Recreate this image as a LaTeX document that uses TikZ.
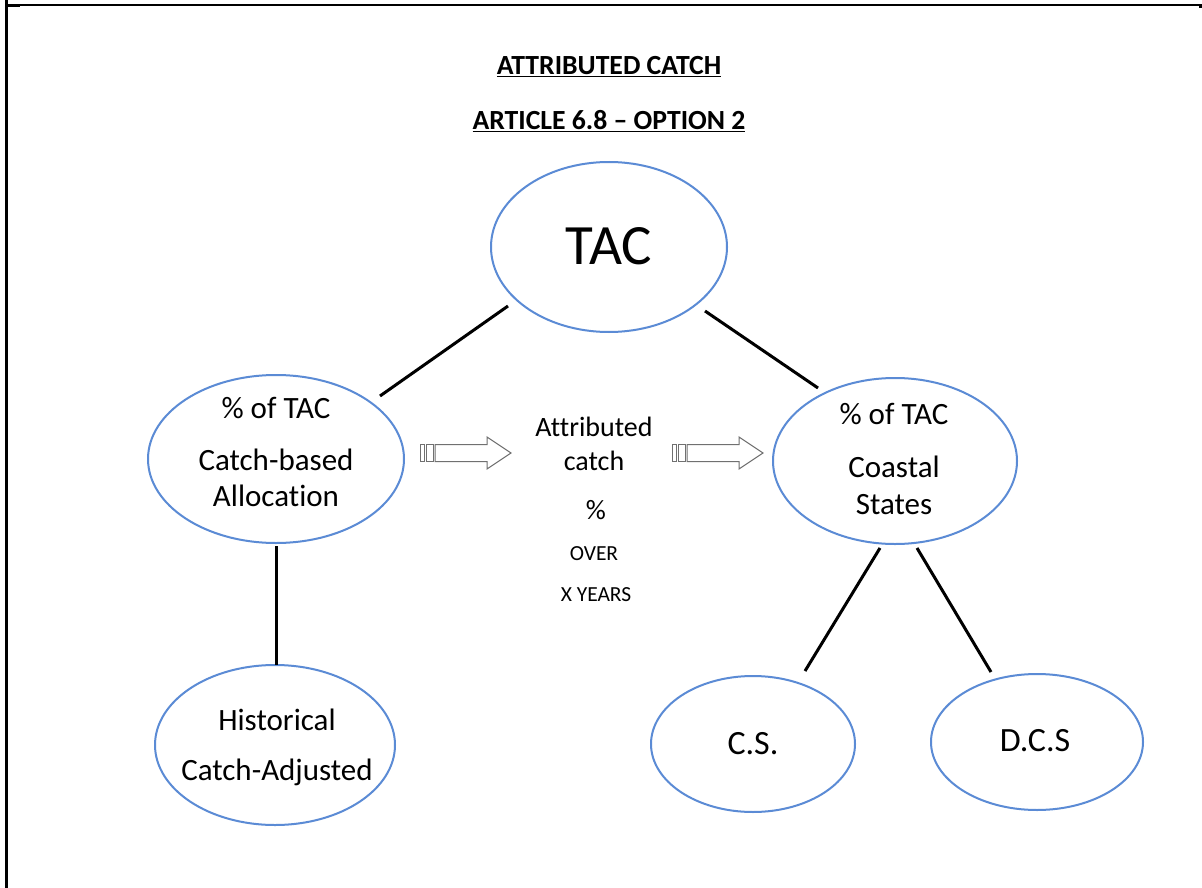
\documentclass[tikz,border=0pt]{standalone}
\usepackage{fontspec}
\setmainfont[Ligatures=NoCommon]{Carlito}
\usetikzlibrary{shapes.geometric,shapes.arrows}
\definecolor{ellblue}{RGB}{91,139,213}
\definecolor{arrgray}{RGB}{112,112,112}
\tikzset{
  oval/.style={draw=ellblue, line width=2pt, ellipse, inner sep=0pt},
  conn/.style={draw=black, line width=3pt},
  txt/.style={inner sep=0pt, font=\fontsize{31}{36}\selectfont},
  midtxt/.style={inner sep=0pt, font=\fontsize{28}{32}\selectfont},
  small/.style={inner sep=0pt, font=\fontsize{21.5}{25}\selectfont},
  ttl/.style={inner sep=0pt, font=\bfseries\fontsize{27.7}{32}\selectfont},
  blk/.style={draw=arrgray, line width=1pt, fill=white},
}
\begin{document}
\begin{tikzpicture}[x=1pt,y=-1pt]
\useasboundingbox (0,0) rectangle (1202,888);
\fill[white] (0,0) rectangle (1202,888);
% frame
\draw[line width=1.5pt] (7,5) -- (1202,5);
\draw[line width=3pt] (6,0) -- (6,888);
\draw[line width=3pt] (6,6) -- (20,6);
\fill (1199,4) rectangle (1202,8);
% titles
\node[ttl] (t1) at (609,67) {\underline{ATTRIBUTED CATCH}};
\node[ttl] (t2) at (609,121) {\underline{ARTICLE 6.8 – OPTION 2}};
% ellipses
\node[oval, minimum width=236pt, minimum height=170pt] (tac) at (609,247) {};
\node[oval, minimum width=256pt, minimum height=168pt] (left) at (276,459) {};
\node[oval, minimum width=240pt, minimum height=160pt] (hist) at (275,745) {};
\node[oval, minimum width=244pt, minimum height=166pt] (right) at (895,461) {};
\node[oval, minimum width=204pt, minimum height=136pt] (cs) at (753,744) {};
\node[oval, minimum width=212pt, minimum height=136pt] (dcs) at (1037,742) {};
% texts
\node[inner sep=0pt, font=\fontsize{57}{62}\selectfont] (tactxt) at (609,246) {TAC};
\node[txt] (l1) at (276,408) {\% of TAC};
\node[txt] (l2) at (276,460) {Catch-based};
\node[txt] (l3) at (276,496) {Allocation};
\node[txt] (h1) at (277,720) {Historical};
\node[txt] (h2) at (277,772) {Catch-Adjusted};
\node[txt] (r1) at (894,414) {\% of TAC};
\node[txt] (r2) at (894,467) {Coastal};
\node[txt] (r3) at (894,505) {States};
\node[inner sep=0pt, font=\fontsize{34}{40}\selectfont] (cstxt) at (753,744) {C.S.};
\node[inner sep=0pt, font=\fontsize{34}{40}\selectfont] (dcstxt) at (1035,741) {D.C.S};
\node[midtxt] (m1) at (594,427) {Attributed};
\node[midtxt] (m2) at (594,461) {catch};
\node[midtxt] (m3) at (596,510) {\%};
\node[small] (m4) at (594,554) {OVER};
\node[small] (m5) at (596,595) {X YEARS};
% connectors
\coordinate (a1) at (508,306); \coordinate (a2) at (380,396);
\coordinate (b1) at (705,311); \coordinate (b2) at (818,388);
\coordinate (c1) at (276,546); \coordinate (c2) at (276,665);
\coordinate (d1) at (880,548); \coordinate (d2) at (805,671);
\coordinate (e1) at (917,548); \coordinate (e2) at (991,672);
\draw[conn] (a1) -- (a2);
\draw[conn] (b1) -- (b2);
\draw[conn] (c1) -- (c2);
\draw[conn] (d1) -- (d2);
\draw[conn] (e1) -- (e2);
% block arrows
\foreach \n/\x in {arrA/420, arrB/672}{
  \draw[blk] (\x,444.5) rectangle (\x+4,461.5);
  \draw[blk] (\x+6,444.5) rectangle (\x+13,461.5);
  \draw[blk] (\x+15,444.5) -- (\x+67,444.5) -- (\x+67,437) -- (\x+91,453) -- (\x+67,469) -- (\x+67,461.5) -- (\x+15,461.5) -- cycle;
}
\end{tikzpicture}
\end{document}
